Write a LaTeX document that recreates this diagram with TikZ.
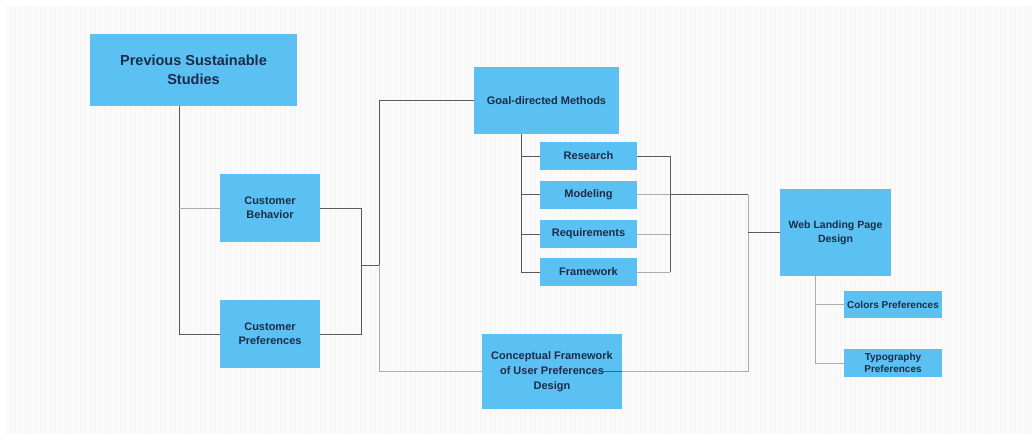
\documentclass[tikz,border=0pt]{standalone}
\usepackage{fontspec}
\setmainfont{Liberation Sans}
\usepackage{xcolor}
\definecolor{boxblue}{HTML}{5BC1F2}
\definecolor{textnavy}{HTML}{1D2B4A}
\definecolor{darkline}{HTML}{5A5A5A}
\definecolor{lightline}{HTML}{ABABAB}

\begin{document}
\begin{tikzpicture}[x=1pt,y=-1pt,
  box/.style={fill=boxblue, text=textnavy, align=center, inner sep=0pt,
    font=\bfseries\fontsize{11}{14}\selectfont},
  small/.style={font=\bfseries\fontsize{10}{12.5}\selectfont},
  link/.style={draw=darkline, line width=0.8pt},
  faint/.style={draw=lightline, line width=0.8pt}]
  \useasboundingbox (0,0) rectangle (1036,442);
  % Bakgrunn
  \fill[white] (0,0) rectangle (1036,442);
  \fill[black!2] (6,6) rectangle (1032,434);
  \draw[black!4, line width=0.2pt, step=5] (6,6) grid (1032,434);
  % Bokser
  \node[box, minimum width=207, minimum height=72,
    font=\bfseries\fontsize{14.5}{19}\selectfont] (pss) at (193.5,70) {Previous Sustainable\\Studies};
  \node[box, minimum width=100, minimum height=68] (beh) at (270,208) {Customer\\Behavior};
  \node[box, minimum width=100, minimum height=68] (pref) at (270,334) {Customer\\Preferences};
  \node[box, minimum width=145, minimum height=67] (goal) at (546.5,100.5) {Goal-directed Methods};
  \node[box, minimum width=97, minimum height=28] (res) at (588.5,156) {Research};
  \node[box, minimum width=97, minimum height=28] (mod) at (588.5,194.5) {Modeling};
  \node[box, minimum width=97, minimum height=28] (req) at (588.5,234) {Requirements};
  \node[box, minimum width=97, minimum height=28] (frm) at (588.5,272) {Framework};
  \node[box, minimum width=140, minimum height=75,
    font=\bfseries\fontsize{11}{15}\selectfont] (conc) at (552,371.5) {Conceptual Framework\\of User Preferences\\Design};
  \node[box, minimum width=111, minimum height=87,
    font=\bfseries\fontsize{10.5}{14}\selectfont] (web) at (835.5,232.5) {Web Landing Page\\Design};
  \node[box, small, minimum width=98, minimum height=27] (col) at (893,304.5) {Colors Preferences};
  \node[box, small, minimum width=98, minimum height=28] (typ) at (893,363) {Typography\\Preferences};
  % Venstre tre
  \coordinate (ja) at (179,0);
  \coordinate (jb) at (361,0);
  \coordinate (jc) at (379,0);
  \coordinate (mid) at (361,265);
  \draw[link] (ja |- pss.south) |- (pref.west);
  \draw[faint] (ja |- beh.west) -- (beh.west);
  \draw[link] (beh.east) -| (jb |- pref.east) -- (pref.east);
  \draw[link] (mid) -- (jc |- mid);
  \draw[link] (goal.west) -| (jc |- mid);
  \draw[faint] (jc |- mid) |- (conc.west);
  % Metodetre
  \coordinate (jd) at (521,0);
  \coordinate (je) at (670,0);
  \coordinate (jf) at (748,0);
  \draw[link] (jd |- goal.south) |- (frm.west);
  \foreach \n in {res,mod,req}
    \draw[link] (jd |- \n.west) -- (\n.west);
  \draw[link] (res.east) -| (je |- frm.east);
  \foreach \n in {mod,req,frm}
    \draw[faint] (\n.east) -- (je |- \n.east);
  \draw[link] (je |- mod.east) -- (jf |- mod.east);
  \draw[faint] (jf |- mod.east) -- (jf |- conc.east);
  \draw[link] (jf |- web.west) -- (web.west);
  \draw[link] ([xshift=-19pt]conc.east) -- (conc.east);
  \draw[faint] (conc.east) -- (jf |- conc.east);
  % Web-tre
  \coordinate (jg) at (815,0);
  \draw[faint] (jg |- web.south) |- (typ.west);
  \draw[faint] (jg |- col.west) -- (col.west);
\end{tikzpicture}
\end{document}
